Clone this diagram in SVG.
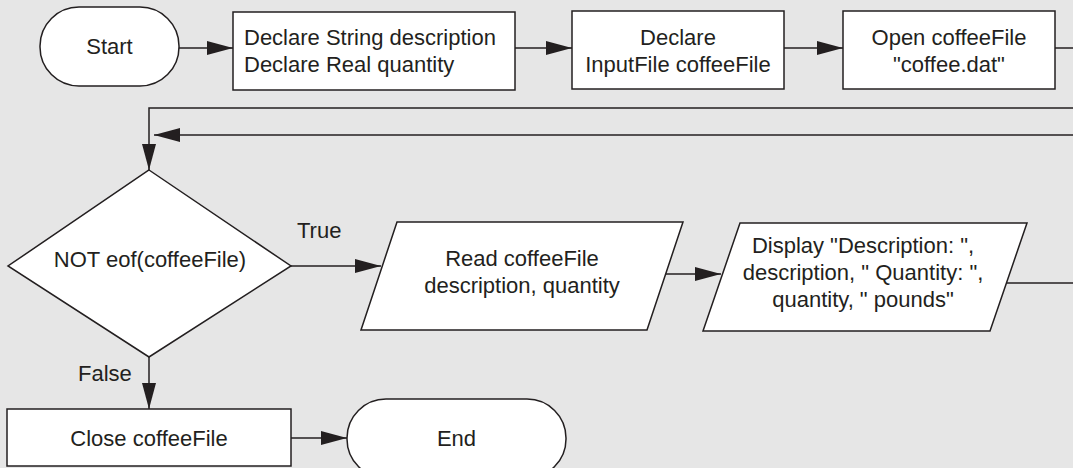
<svg xmlns="http://www.w3.org/2000/svg" width="1073" height="468" viewBox="0 0 1073 468">
<defs>
<marker id="ah" markerUnits="userSpaceOnUse" markerWidth="26" markerHeight="14" refX="26" refY="7" orient="auto">
<path d="M0,0 L26,7 L0,14 z" fill="#231f20"/>
</marker>
<style>
.shape{fill:#ffffff;stroke:#231f20;stroke-width:1.5}
.conn{fill:none;stroke:#231f20;stroke-width:1.5}
.arr{marker-end:url(#ah)}
text{font-family:"Liberation Sans",Arial,sans-serif;font-size:22px;fill:#231f20}
.c{text-anchor:middle}
</style>
</defs>
<rect width="1073" height="468" fill="#e6e6e6"/>
<g id="connectors">
<line class="conn arr" x1="179" y1="48" x2="233" y2="48"/>
<line class="conn arr" x1="515" y1="48" x2="572" y2="48"/>
<line class="conn arr" x1="784" y1="48" x2="843" y2="48"/>
<line class="conn" x1="1055" y1="48" x2="1073" y2="48"/>
<polyline class="conn arr" points="1073,108 149,108 149,170"/>
<line class="conn arr" x1="1073" y1="135" x2="154" y2="135"/>
<line class="conn arr" x1="291" y1="266" x2="381" y2="266"/>
<line class="conn arr" x1="665" y1="274" x2="721" y2="274"/>
<line class="conn" x1="1006" y1="283" x2="1073" y2="283"/>
<line class="conn arr" x1="149" y1="357" x2="149" y2="409"/>
<line class="conn arr" x1="291" y1="438" x2="347" y2="438"/>
<text x="297" y="238">True</text>
<text x="78" y="381">False</text>
</g>
<g id="start">
<rect class="shape" x="40" y="7" width="139" height="79" rx="39" ry="39"/>
<text class="c" x="109.5" y="54">Start</text>
</g>
<g id="declare1">
<rect class="shape" x="233" y="12" width="282" height="78"/>
<text x="244" y="45">Declare String description</text>
<text x="244" y="72">Declare Real quantity</text>
</g>
<g id="declare2">
<rect class="shape" x="572" y="11" width="212" height="78"/>
<text class="c" x="678" y="45">Declare</text>
<text class="c" x="678" y="72">InputFile coffeeFile</text>
</g>
<g id="open">
<rect class="shape" x="843" y="11" width="212" height="78"/>
<text class="c" x="949" y="45">Open coffeeFile</text>
<text class="c" x="949" y="72">"coffee.dat"</text>
</g>
<g id="decision">
<polygon class="shape" points="149,170 291,266 149,357 8,266"/>
<text class="c" x="150" y="267">NOT eof(coffeeFile)</text>
</g>
<g id="read">
<polygon class="shape" points="397,222 683,222 647,330 361,330"/>
<text class="c" x="522" y="266">Read coffeeFile</text>
<text class="c" x="522" y="293">description, quantity</text>
</g>
<g id="display">
<polygon class="shape" points="740,223 1027,223 990,331 703,331"/>
<text class="c" x="863" y="253">Display "Description: ",</text>
<text class="c" x="863" y="280">description, " Quantity: ",</text>
<text class="c" x="863" y="307">quantity, " pounds"</text>
</g>
<g id="close">
<rect class="shape" x="7" y="409" width="284" height="57"/>
<text class="c" x="149" y="446">Close coffeeFile</text>
</g>
<g id="end">
<rect class="shape" x="347" y="399" width="219" height="79" rx="39" ry="39"/>
<text class="c" x="456.5" y="446">End</text>
</g>
</svg>
